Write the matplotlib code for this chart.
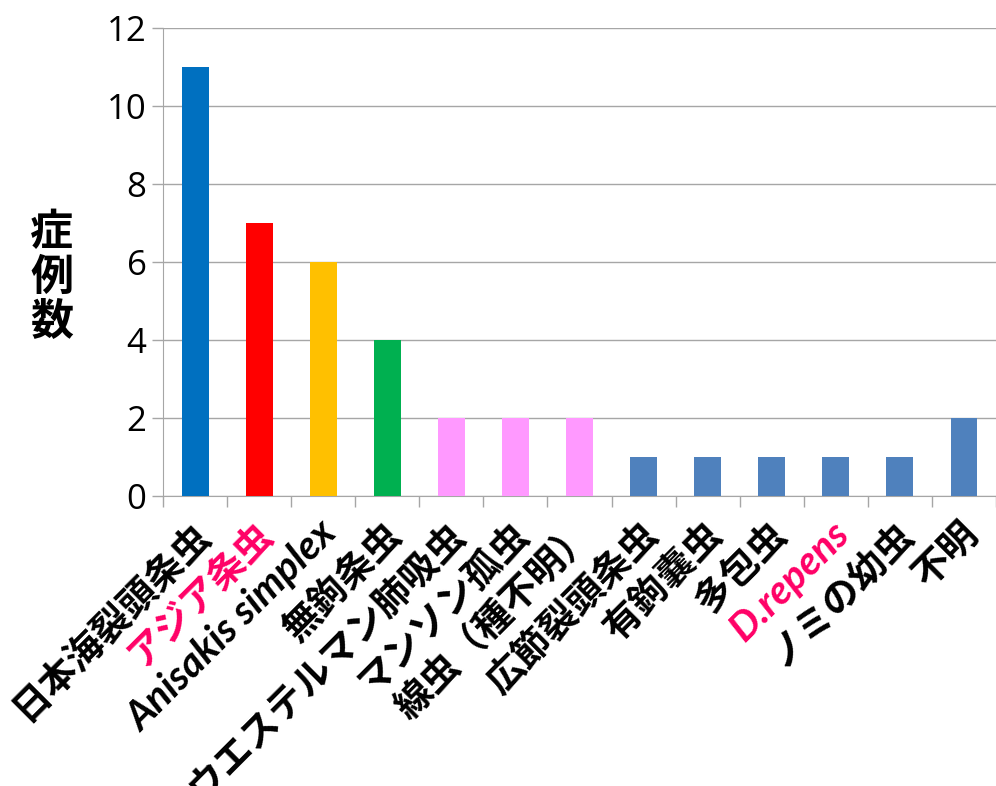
import matplotlib
matplotlib.use("Agg")
import matplotlib.pyplot as plt
from matplotlib.transforms import offset_copy

categories = ["日本海裂頭条虫", "アジア条虫", "Anisakis simplex", "無鉤条虫",
              "ウエステルマン肺吸虫", "マンソン孤虫", "線虫（種不明）", "広節裂頭条虫",
              "有鉤嚢虫", "多包虫", "D.repens", "ノミの幼虫", "不明"]
counts = [11, 7, 6, 4, 2, 2, 2, 1, 1, 1, 1, 1, 2]
bar_colors = ["#0070C0", "#FF0000", "#FFC000", "#00B050", "#FF99FF", "#FF99FF",
              "#FF99FF", "#4F81BD", "#4F81BD", "#4F81BD", "#4F81BD", "#4F81BD", "#4F81BD"]
label_colors = ["black", "#FF0066", "black", "black", "black", "black", "black",
                "black", "black", "black", "#FF0066", "black", "black"]
latin_labels = {"Anisakis simplex", "D.repens"}
yticks = [0, 2, 4, 6, 8, 10, 12]
ylabel_chars = ["症", "例", "数"]

fig = plt.figure(figsize=(9.96, 7.86), dpi=100)
ax = fig.add_axes([0.1637, 0.369, 0.8363, 0.5954])

x = list(range(len(categories)))
ax.bar(x, counts, width=0.42, color=bar_colors, zorder=3)
ax.set_xlim(-0.5, len(categories) - 0.5)
ax.set_ylim(0, 12)
ax.set_yticks(yticks)
ax.set_yticklabels([str(v) for v in yticks], fontsize=25, family=["Open Sans", "DejaVu Sans"])
ax.yaxis.grid(True, color="#A6A6A6", linewidth=1.0, zorder=0)
ax.tick_params(axis="y", length=8, width=1, color="#A6A6A6", pad=4)
ax.set_xticks([i - 0.5 for i in range(len(categories) + 1)])
ax.set_xticklabels([])
ax.tick_params(axis="x", length=8, width=1, color="#A6A6A6", direction="out")
for s in ["top", "right"]:
    ax.spines[s].set_visible(False)
ax.spines["left"].set_color("#A6A6A6")
ax.spines["bottom"].set_color("#A6A6A6")

trans = offset_copy(ax.get_xaxis_transform(), fig=fig, x=8, y=-32, units="dots")
for i, (lab, col) in enumerate(zip(categories, label_colors)):
    if lab in latin_labels:
        fam = ["Lato", "DejaVu Sans"]
        style = "italic"
        fs = 29
    else:
        fam = ["Noto Sans CJK JP", "DejaVu Sans"]
        style = "normal"
        fs = 27
    ax.text(i, 0, lab, transform=trans, rotation=45, rotation_mode="anchor",
            ha="right", va="center", fontsize=fs, fontweight="bold",
            color=col, family=fam, style=style, clip_on=False)

for k, ch in enumerate(ylabel_chars):
    fig.text(0.052, 1 - (232 + 45 * k) / 786, ch, ha="center", va="center", fontsize=31,
             fontweight="bold", family=["Noto Sans CJK JP", "DejaVu Sans"])

fig.savefig("out.png", dpi=100)
